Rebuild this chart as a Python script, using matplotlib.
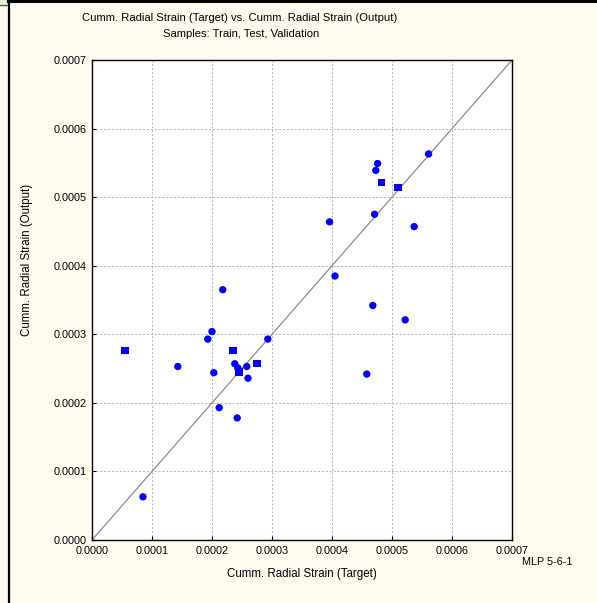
import matplotlib.pyplot as plt
from matplotlib.lines import Line2D
from matplotlib.patches import Rectangle

# valores (unidades 1e-4)
circ_x = [0.85, 1.43, 1.93, 2.00, 2.03, 2.18, 2.12, 2.38, 2.43, 2.58, 2.60,
          2.93, 2.42, 3.96, 4.05, 4.71, 4.76, 4.73, 5.61, 5.37, 4.68, 5.22, 4.58]
circ_y = [0.63, 2.53, 2.93, 3.04, 2.44, 3.65, 1.93, 2.57, 2.51, 2.53, 2.36,
          2.93, 1.78, 4.64, 3.85, 4.75, 5.49, 5.39, 5.63, 4.57, 3.42, 3.21, 2.42]
sq_x = [0.55, 2.35, 2.45, 2.75, 4.83, 5.10]
sq_y = [2.77, 2.77, 2.45, 2.57, 5.22, 5.14]

ticks = [0.0, 0.0001, 0.0002, 0.0003, 0.0004, 0.0005, 0.0006, 0.0007]
tick_labels = ["0.0000", "0.0001", "0.0002", "0.0003", "0.0004", "0.0005", "0.0006", "0.0007"]

fondo = "#fffbef"
plt.rcParams["font.family"] = ["Liberation Sans", "DejaVu Sans"]

fig = plt.figure(figsize=(5.97, 6.03), dpi=100, facecolor=fondo)
W, H = 597, 603
ax = fig.add_axes([92 / W, (H - 540) / H, 420 / W, 480 / H])
ax.set_facecolor("white")

ax.plot([0, 0.0007], [0, 0.0007], color="#8a8a8a", lw=0.9, zorder=2)
ax.scatter([v * 1e-4 for v in circ_x], [v * 1e-4 for v in circ_y],
           s=28, marker="o", color="#0000ff", edgecolors="none", zorder=3)
ax.scatter([v * 1e-4 for v in sq_x], [v * 1e-4 for v in sq_y],
           s=26, marker="s", color="#0000ff", edgecolors="none", zorder=3)

ax.set_xlim(0, 0.0007)
ax.set_ylim(0, 0.0007)
ax.set_xticks(ticks)
ax.set_yticks(ticks)
ax.set_xticklabels(tick_labels, fontsize=7.8)
ax.set_yticklabels(tick_labels, fontsize=7.8)
ax.tick_params(direction="in", length=3, width=0.8, pad=4, colors="black")
ax.grid(True, color="#b0b0b0", linestyle=(0, (2, 2)), linewidth=0.7)
for s in ax.spines.values():
    s.set_linewidth(1.0)
    s.set_color("black")

ax.set_xlabel("Cumm. Radial Strain (Target)", fontsize=8.3, labelpad=9)
fig.text(27 / W, 1 - 260 / H, "Cumm. Radial Strain (Output)", rotation=90,
         ha="center", va="center", fontsize=8.3)
fig.text(240 / W, 1 - 18 / H, "Cumm. Radial Strain (Target) vs. Cumm. Radial Strain (Output)",
         ha="center", va="center", fontsize=8.1)
fig.text(241 / W, 1 - 34 / H, "Samples: Train, Test, Validation",
         ha="center", va="center", fontsize=8.1)
fig.text(522 / W, 1 - 562 / H, "MLP 5-6-1", ha="left", va="center", fontsize=7.8)

# marco exterior
fig.patches.append(Rectangle((0, 1 - 4 / H), 8 / W, 4 / H, transform=fig.transFigure,
                             facecolor="#e4f2c8", edgecolor="none"))
fig.lines.append(Line2D([0, 8 / W], [1 - 5 / H, 1 - 5 / H], transform=fig.transFigure,
                        color="#555555", lw=1))
fig.lines.append(Line2D([8.5 / W, 8.5 / W], [0, 1], transform=fig.transFigure,
                        color="black", lw=1.6))
fig.lines.append(Line2D([8 / W, 1], [1 - 1 / H, 1 - 1 / H], transform=fig.transFigure,
                        color="black", lw=2.2))

fig.savefig("out.png", dpi=100, facecolor=fondo)
